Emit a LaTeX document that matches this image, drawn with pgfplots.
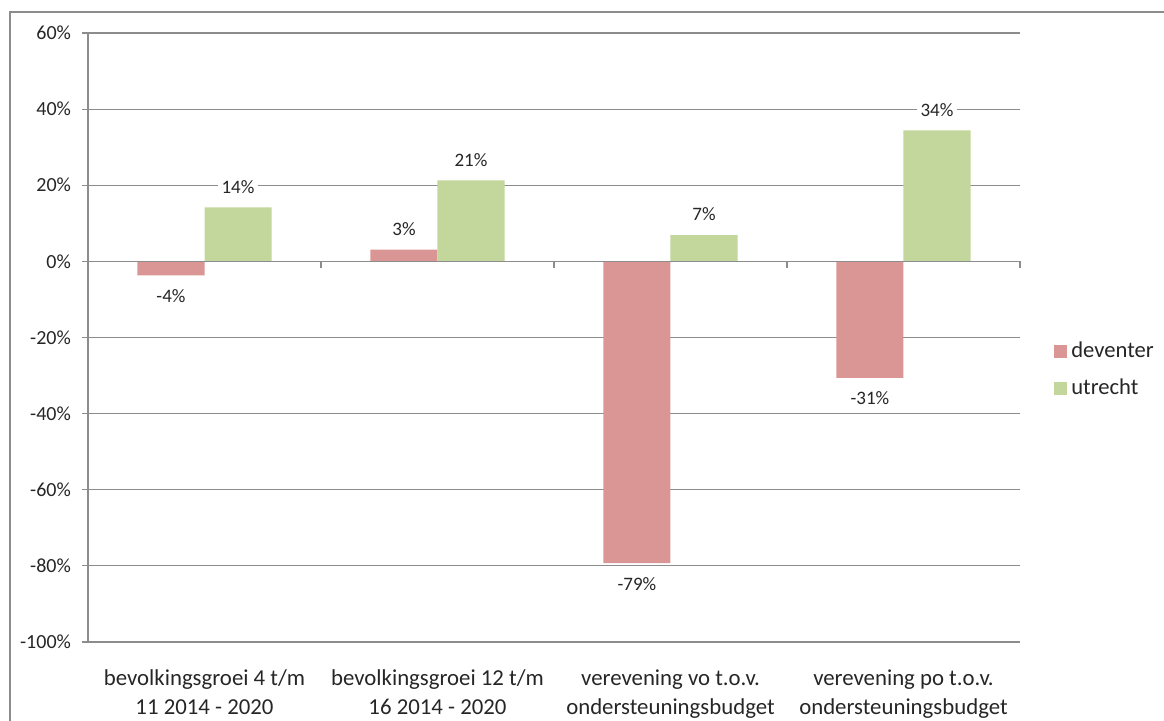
\documentclass[border=0pt]{standalone}
\usepackage{pgfplots}
\pgfplotsset{compat=1.18}
\usepackage{fontspec}
\setmainfont{Carlito}
\definecolor{dev}{HTML}{D99694}
\definecolor{utr}{HTML}{C3D69B}
\definecolor{gridc}{HTML}{8C8C8C}
\definecolor{txt}{HTML}{262626}
\begin{document}
\begin{tikzpicture}
\path[use as bounding box] (0,0) rectangle (582pt,-360pt);
\draw[gridc, line width=0.75pt] (5pt,-370pt) -- (5pt,-6pt) -- (590pt,-6pt);
\begin{axis}[
  at={(44pt,-16.5pt)}, anchor=north west,
  scale only axis, width=466pt, height=304.5pt,
  /pgf/number format/assume math mode=true,
  xmin=-0.5, xmax=3.5, ymin=-100, ymax=60,
  ytick={-100,-80,...,60},
  yticklabel={\pgfmathprintnumber{\tick}\%},
  xtick={0,1,2,3},
  xticklabels={{bevolkingsgroei 4 t/m\\11 2014 - 2020},{bevolkingsgroei 12 t/m\\16 2014 - 2020},{verevening vo t.o.v.\\ondersteuningsbudget},{verevening po t.o.v.\\ondersteuningsbudget}},
  xticklabel style={align=center, font=\fontsize{11.4}{14.3}\selectfont, text=txt, yshift=-7.5pt},
  yticklabel style={font=\fontsize{10}{12}\selectfont, text=txt, xshift=-2pt},
  axis x line=bottom, axis y line=left,
  axis line style={-, gridc, line width=0.55pt},
  x axis line style={draw=none},
  ymajorgrids, grid style={gridc, line width=0.55pt},
  tick align=outside,
  ytick style={gridc, line width=0.55pt},
  xtick style={draw=none},
  major tick length=3pt,
  ybar=0pt, bar width=0.2876,
  nodes near coords={\pgfmathprintnumber[fixed,precision=0]{\pgfplotspointmeta}\%},
  every node near coord/.append style={font=\fontsize{9.5}{11}\selectfont, text=txt, fill=white, inner sep=2pt, outer ysep=5pt},
  legend style={at={(1.03,0.447)}, anchor=west, draw=none, fill=none, font=\fontsize{11.3}{13}\selectfont, text=txt, row sep=5pt},
  legend cell align=left,
  legend image code/.code={\fill[#1] (0pt,-3.25pt) rectangle (6.5pt,3.25pt);},
]
\addplot[fill=dev, draw=none] coordinates {(0,-3.7) (1,3.1) (2,-79.3) (3,-30.6)};
\addlegendentry{deventer}
\addplot[fill=utr, draw=none] coordinates {(0,14.2) (1,21.3) (2,6.9) (3,34.4)};
\addlegendentry{utrecht}
\end{axis}
\begin{axis}[
  at={(44pt,-16.5pt)}, anchor=north west,
  scale only axis, width=466pt, height=304.5pt,
  xmin=-0.5, xmax=3.5, ymin=-100, ymax=60,
  axis y line=none, axis x line=middle,
  axis line style={-, gridc, line width=0.55pt},
  xtick={-0.5,0.5,1.5,2.5,3.5}, xticklabels={},
  xtick align=outside, major tick length=3.5pt,
  xtick style={gridc, line width=0.55pt},
]
\end{axis}
\end{tikzpicture}
\end{document}
